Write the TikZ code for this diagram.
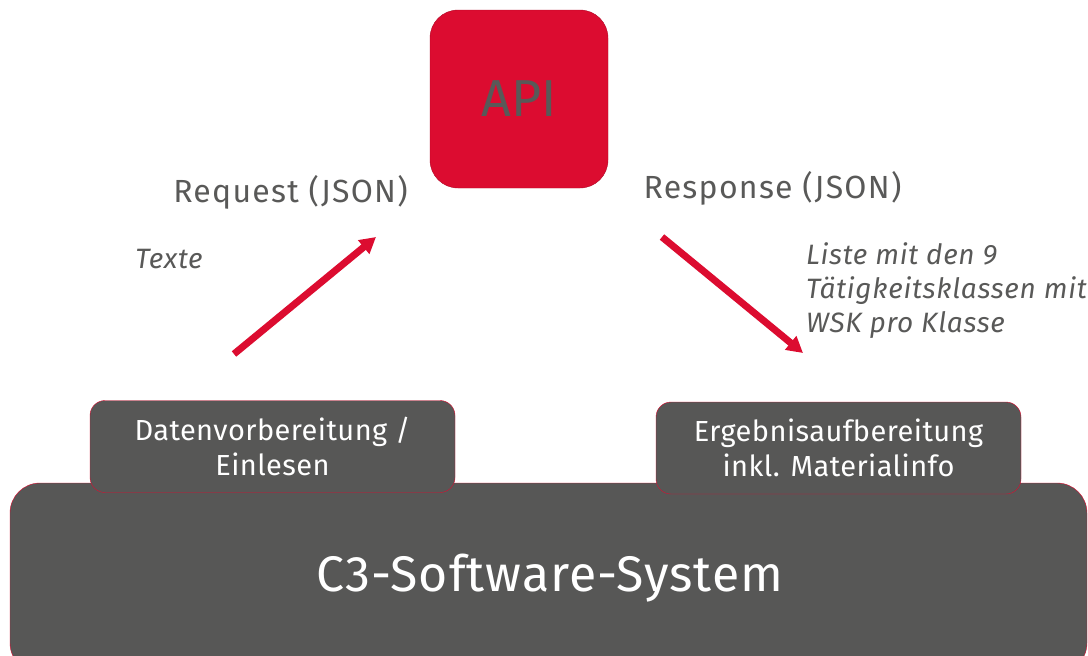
\documentclass[tikz,border=0pt]{standalone}
\usepackage{fontspec}
\setmainfont{Fira Sans}
\usepackage{xcolor}
\usetikzlibrary{positioning, arrows.meta}
\definecolor{c3red}{HTML}{DC0C30}
\definecolor{c3darkred}{HTML}{B00A28}
\definecolor{c3gray}{HTML}{575756}
\definecolor{c3text}{HTML}{595958}

\begin{document}
\begin{tikzpicture}[
    x = 1pt, y = -1pt, > = {Triangle[length = 16pt, width = 17pt]},
    api/.style = {rectangle, rounded corners = 28pt, fill = c3red, draw = c3darkred, thin, minimum size = 178pt, text = c3text, font = \fontsize{52}{60}\selectfont},
    system/.style = {rectangle, rounded corners = 30pt, fill = c3gray, draw = c3red, thin, minimum width = 1077pt, minimum height = 190pt},
    module/.style = {rectangle, rounded corners = 15pt, fill = c3gray, draw = c3red, thin, minimum width = 365pt, minimum height = 92pt, text = white, align = center, font = \fontsize{29}{35}\selectfont\addfontfeatures{LetterSpace=1.5}},
    caption/.style = {text = c3text, inner sep = 0pt, anchor = base, font = \fontsize{32}{36}\selectfont\addfontfeatures{LetterSpace=4}},
    payload/.style = {text = c3text, inner sep = 0pt, align = left, font = \fontsize{28}{34}\itshape\addfontfeatures{LetterSpace=2.5}},
    path/.style = {->, line width = 7pt, draw = c3red},
    ]

    \clip (0,0) rectangle (1088,656);
    \useasboundingbox (0,0) rectangle (1088,656);

    \node [system] (system) at (548.5,578) {};
    \node [text = white, font = \fontsize{50}{56}\selectfont\addfontfeatures{LetterSpace=2}] (systemlabel) at (550,578) {C3-Software-System};
    \node [module] (prep)   at (272.5,446.5) {Datenvorbereitung /\\Einlesen};
    \node [module] (result) at (838.5,448)   {Ergebnisaufbereitung\\inkl. Materialinfo};

    \node [api] (api) at (519,99) {API};

    \node [caption] (request)  at (290.5,202) {Request (JSON)};
    \node [caption] (response) at (772.5,198) {Response (JSON)};
    \node [payload, anchor = base] (texte) at (169,268) {Texte};
    \node [payload, anchor = north west] (liste) at (806,242) {Liste mit den 9\\Tätigkeitsklassen mit\\WSK pro Klasse};

    \coordinate (reqstart) at (234,354);
    \coordinate (reqend)   at (376,237);
    \coordinate (resstart) at (662,237);
    \coordinate (resend)   at (803,353);

    % draw paths
    \draw [path] (reqstart) -- (reqend);
    \draw [path] (resstart) -- (resend);
\end{tikzpicture}
\end{document}
